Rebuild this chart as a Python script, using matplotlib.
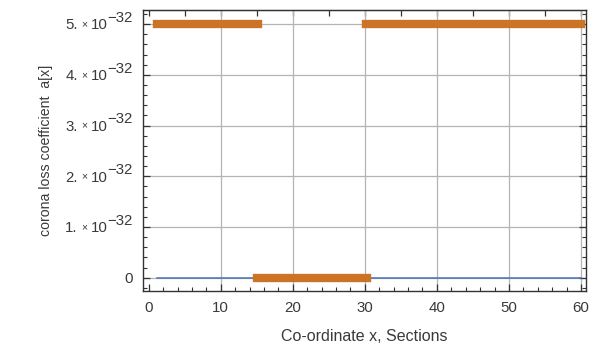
import matplotlib
matplotlib.use("Agg")
import matplotlib.pyplot as plt
from matplotlib.ticker import MultipleLocator, FixedLocator

# piecewise coefficient a[x] along the line sections
seg_start = [1.2, 15.1, 30.1]
seg_end = [15.2, 30.3, 60.0]
seg_level = [5e-32, 0.0, 5e-32]

# base (zero) line
base_x = [1.2, 60.0]
base_y = [0.0, 0.0]

y_ticks = [0, 1e-32, 2e-32, 3e-32, 4e-32, 5e-32]
y_mant = ["0", "1.", "2.", "3.", "4.", "5."]
y_exp = "\u221232"
x_ticks = [0, 10, 20, 30, 40, 50, 60]

plt.rcParams['font.family'] = ['Liberation Sans', 'DejaVu Sans']

txt = '#3a3a3a'
fs = 10.8
fig = plt.figure(figsize=(5.98, 3.45), dpi=100)
ax = fig.add_axes([0.239, 0.157, 0.741, 0.814])

ax.plot(base_x, base_y, color='#4a72b0', lw=1.1, zorder=3)
for x0, x1, lv in zip(seg_start, seg_end, seg_level):
    ax.plot([x0, x1], [lv, lv], color='#cc7425', lw=6, solid_capstyle='projecting', zorder=4)

ax.set_xlim(-0.8, 60.7)
ax.set_ylim(-0.26e-32, 5.28e-32)

ax.set_xticks(x_ticks)
ax.xaxis.set_minor_locator(MultipleLocator(2))
ax.set_yticks(y_ticks)
ax.set_yticklabels(["0"] + [""] * (len(y_ticks) - 1))
ax.yaxis.set_minor_locator(MultipleLocator(0.2e-32))

ax.tick_params(which='both', direction='in', colors='#333333', labelcolor=txt,
               labelsize=fs, top=False, right=True)
ax.tick_params(which='major', length=5, width=0.9)
ax.tick_params(which='minor', length=3, width=0.8)
ax.tick_params(axis='y', pad=7)
ax.tick_params(axis='x', pad=7)

# "n. x 10^-32" labels written piece by piece, exponent at full size
for y, m in zip(y_ticks[1:], y_mant[1:]):
    sup = ax.annotate(y_exp, xy=(0, y), xycoords=('axes fraction', 'data'),
                      xytext=(-7.2, 1.5), textcoords='offset points',
                      ha='right', va='baseline', fontsize=fs, color=txt)
    ten = ax.annotate("10", xy=(0, y), xycoords=(sup, 'data'),
                      xytext=(0, -3.8), textcoords='offset points',
                      ha='right', va='baseline', fontsize=fs, color=txt)
    tim = ax.annotate("\u00d7", xy=(0, y), xycoords=(ten, 'data'),
                      xytext=(-2.5, -2.2), textcoords='offset points',
                      ha='right', va='baseline', fontsize=7.5, color=txt)
    ax.annotate(m, xy=(0, y), xycoords=(tim, 'data'),
                xytext=(-2.5, -3.8), textcoords='offset points',
                ha='right', va='baseline', fontsize=fs, color=txt)

# top frame ticks every 5, no labels
top = ax.secondary_xaxis('top')
top.xaxis.set_major_locator(FixedLocator(list(range(0, 61, 5))))
top.tick_params(direction='in', length=4, width=0.9, labeltop=False, colors='#333333')

for x in x_ticks[1:]:
    ax.axvline(x, color='#b4b4b4', lw=0.9, zorder=1)
for y in y_ticks:
    ax.axhline(y, color='#b4b4b4', lw=0.9, zorder=1)

for s in ax.spines.values():
    s.set_color('#333333')
    s.set_linewidth(1.0)
top.spines['top'].set_color('#333333')

ax.set_xlabel('Co-ordinate x, Sections', fontsize=11.5, color=txt)
ax.xaxis.set_label_coords(0.5, -0.137)
ax.xaxis.label.set_va('top')
ax.set_ylabel('corona loss coefficient  a[x]', fontsize=10.2, color=txt)
ax.yaxis.set_label_coords(-0.202, 0.5)

fig.savefig('out.png', dpi=100)
